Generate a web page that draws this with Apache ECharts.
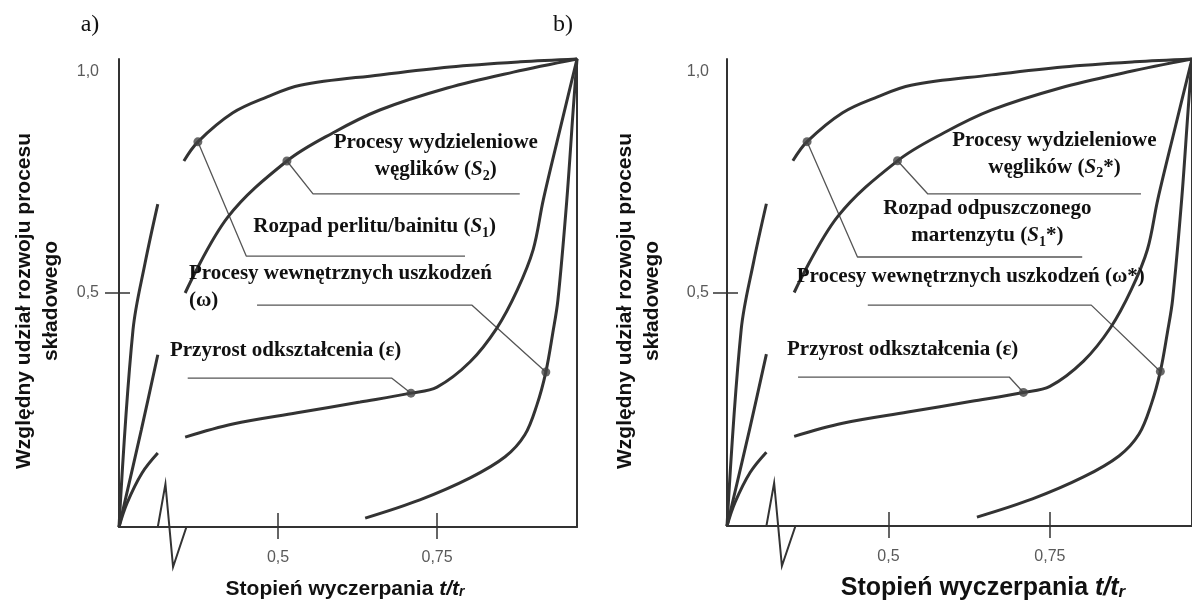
<!DOCTYPE html>
<html>
<head>
<meta charset="utf-8">
<script src="https://cdn.jsdelivr.net/npm/echarts@6/dist/echarts.min.js"></script>
<style>
  html, body { margin: 0; padding: 0; background: #fff; }
  #chart { width: 1192px; height: 601px; }
</style>
</head>
<body>
<div id="chart"></div>
<script>
// Relative share of each component process (y) versus exhaustion degree t/t_r (x)
const curveS1 = [[0.352, 0.782], [0.374, 0.823], [0.429, 0.885], [0.483, 0.919], [0.535, 0.944],
                 [0.660, 0.966], [0.770, 0.983], [0.881, 0.994], [0.970, 1.0]];
const curveS2 = [[0.354, 0.500], [0.421, 0.662], [0.514, 0.782], [0.586, 0.842], [0.660, 0.891],
                 [0.766, 0.938], [0.870, 0.972], [0.970, 1.0]];
const curveEps = [[0.354, 0.192], [0.429, 0.220], [0.530, 0.244], [0.629, 0.267], [0.709, 0.286],
                  [0.750, 0.299], [0.802, 0.353], [0.844, 0.425], [0.876, 0.506], [0.901, 0.592],
                  [0.917, 0.699], [0.943, 0.848], [0.970, 1.0]];
const curveOmega = [[0.637, 0.019], [0.723, 0.058], [0.802, 0.105], [0.857, 0.150], [0.888, 0.197],
                    [0.907, 0.261], [0.921, 0.331], [0.932, 0.415], [0.940, 0.485], [0.954, 0.699],
                    [0.964, 0.891], [0.970, 1.0]];
// early stage, drawn left of the axis break
const earlyA = [[0.250, 0.0], [0.272, 0.421], [0.291, 0.564], [0.311, 0.690]];
const earlyB = [[0.250, 0.0], [0.285, 0.207], [0.311, 0.368]];
const earlyC = [[0.250, 0.0], [0.2626, 0.051], [0.286, 0.115], [0.311, 0.158]];

// marked point on each curve (index into the curve array)
const markS1 = 1, markS2 = 2, markEps = 4, markOmega = 6;

// axis ticks
const xTicks = [0.5, 0.75];
const yTicks = [0.5];
const yTickLabels = [0.5, 1.0];
const xMin = 0.25, xMax = 0.97;
// the break on the time axis: start, peak, trough, end
const axisBreak = [0.311, 0.323, 0.335, 0.356];

// texts per panel
const panelTags = ['a)', 'b)'];
const labelsS2 = ['Procesy wydzieleniowe\nwęglików ({i|S}{s|2})', 'Procesy wydzieleniowe\nwęglików ({i|S}{s|2}*)'];
const labelsS1 = ['Rozpad perlitu/bainitu ({i|S}{s|1})', 'Rozpad odpuszczonego\nmartenzytu ({i|S}{s|1}*)'];
const labelsOmega = ['Procesy wewnętrznych uszkodzeń\n(ω)', 'Procesy wewnętrznych uszkodzeń (ω*)'];
const labelsEps = ['Przyrost odkształcenia (ε)', 'Przyrost odkształcenia (ε)'];
const xTitle = 'Stopień wyczerpania {i|t/t}{s|r}';
const yTitle = 'Względny udział rozwoju procesu\nskładowego';

// ---- layout ----
const grids = [
  { left: 119, top: 59, width: 458, height: 468 },
  { left: 727, top: 59, width: 466, height: 467 }
];
const layout = [
  {
    s2: { at: [0.748, 0.792], align: 'center' },
    s1: { at: [0.652, 0.641], align: 'center' },
    om: { at: [0.360, 0.512], align: 'left' },
    ep: { at: [0.512, 0.378], align: 'center' },
    leadS1: [[0.450, 0.579], [0.794, 0.579]],
    leadS2: [[0.555, 0.712], [0.880, 0.712]],
    leadOm: [[0.467, 0.474], [0.805, 0.474]],
    leadEp: [[0.358, 0.318], [0.679, 0.318]],
    xTitle: [345, 589], xTitleSize: 21, yTitle: [38, 301], tag: [90, 25]
  },
  {
    s2: { at: [0.757, 0.797], align: 'center' },
    s1: { at: [0.653, 0.650], align: 'center' },
    om: { at: [0.358, 0.535], align: 'left' },
    ep: { at: [0.522, 0.377], align: 'center' },
    leadS1: [[0.452, 0.576], [0.800, 0.576]],
    leadS2: [[0.561, 0.711], [0.891, 0.711]],
    leadOm: [[0.468, 0.473], [0.814, 0.473]],
    leadEp: [[0.360, 0.319], [0.687, 0.319]],
    xTitle: [983, 588], xTitleSize: 25, yTitle: [639, 301], tag: [563, 25]
  }
];

const INK = '#333';
const SANS = '"Liberation Sans", Arial, sans-serif';
const SERIF = '"Liberation Serif", "Times New Roman", serif';
const commaFmt = v => String(v).replace('.', ',');

const xAxes = [], yAxes = [], series = [];
grids.forEach((g, gi) => {
  // bottom axis: outward ticks + labels (line is drawn separately with the break)
  xAxes.push({
    gridIndex: gi, type: 'value', min: xMin, max: xMax, position: 'bottom',
    axisLine: { show: false },
    axisTick: { show: true, inside: false, length: 12, customValues: xTicks, lineStyle: { color: INK, width: 1.5 } },
    axisLabel: { show: true, customValues: xTicks, formatter: commaFmt, margin: 23,
                 color: '#5a5a5a', fontSize: 16, fontFamily: SANS },
    splitLine: { show: false }
  });
  // bottom axis: inward half of the crossing ticks
  xAxes.push({
    gridIndex: gi, type: 'value', min: xMin, max: xMax, position: 'bottom',
    axisLine: { show: false },
    axisTick: { show: true, inside: true, length: 14, customValues: xTicks, lineStyle: { color: INK, width: 1.5 } },
    axisLabel: { show: false }, splitLine: { show: false }
  });
  // top frame
  xAxes.push({
    gridIndex: gi, type: 'value', min: xMin, max: xMax, position: 'top',
    axisLine: { show: true, lineStyle: { color: INK, width: 2 } },
    axisTick: { show: false }, axisLabel: { show: false }, splitLine: { show: false }
  });
  // left axis with labels
  yAxes.push({
    gridIndex: gi, type: 'value', min: 0, max: 1, position: 'left',
    axisLine: { show: true, lineStyle: { color: INK, width: 2 } },
    axisTick: { show: true, inside: false, length: 14, customValues: yTicks, lineStyle: { color: INK, width: 1.5 } },
    axisLabel: {
      show: true, customValues: yTickLabels, margin: gi === 0 ? 20 : 18,
      formatter: v => v === 1 ? '{lo|1,0}' : commaFmt(v.toFixed(1)),
      color: '#5a5a5a', fontSize: 16, fontFamily: SANS,
      rich: { lo: { padding: [26, 0, 0, 0], color: '#5a5a5a', fontSize: 16, fontFamily: SANS } }
    },
    splitLine: { show: false }
  });
  yAxes.push({
    gridIndex: gi, type: 'value', min: 0, max: 1, position: 'left',
    axisLine: { show: false },
    axisTick: { show: true, inside: true, length: 11, customValues: yTicks, lineStyle: { color: INK, width: 1.5 } },
    axisLabel: { show: false }, splitLine: { show: false }
  });
  // right frame
  yAxes.push({
    gridIndex: gi, type: 'value', min: 0, max: 1, position: 'right',
    axisLine: { show: true, lineStyle: { color: INK, width: 2 } },
    axisTick: { show: false }, axisLabel: { show: false }, splitLine: { show: false }
  });

  const xi = gi * 3, yi = gi * 3;
  const curve = (name, data) => ({
    name, type: 'line', xAxisIndex: xi, yAxisIndex: yi, data, smooth: 0.35,
    symbol: 'none', clip: false, silent: true, z: 3,
    lineStyle: { color: INK, width: 3 }
  });
  [['S1', curveS1], ['S2', curveS2], ['eps', curveEps], ['omega', curveOmega],
   ['earlyA', earlyA], ['earlyB', earlyB], ['earlyC', earlyC]].forEach(([n, d]) => series.push(curve(n, d)));

  const L = layout[gi];
  const lead = (name, pts) => ({
    name, type: 'line', xAxisIndex: xi, yAxisIndex: yi, data: pts, smooth: false,
    symbol: 'none', clip: false, silent: true, z: 2,
    lineStyle: { color: '#555', width: 1.3 }
  });
  series.push(lead('leadS1', [curveS1[markS1], ...L.leadS1]));
  series.push(lead('leadS2', [curveS2[markS2], ...L.leadS2]));
  series.push(lead('leadOm', [...L.leadOm, curveOmega[markOmega]]));
  series.push(lead('leadEp', [...L.leadEp, curveEps[markEps]]));

  series.push({
    name: 'marks', type: 'scatter', xAxisIndex: xi, yAxisIndex: yi, symbolSize: 9, z: 4, silent: true,
    itemStyle: { color: '#444' },
    data: [curveS1[markS1], curveS2[markS2], curveEps[markEps], curveOmega[markOmega]]
  });
});

const chart = echarts.init(document.getElementById('chart'));
chart.setOption({
  backgroundColor: '#fff',
  animation: false,
  grid: grids.map(g => Object.assign({ containLabel: false }, g)),
  xAxis: xAxes,
  yAxis: yAxes,
  series
});

// text and the broken time axis, placed through the axes' own scales
const serifRich = {
  i: { fontFamily: SERIF, fontSize: 21, fontWeight: 'bold', fontStyle: 'italic', fill: '#111', lineHeight: 27 },
  s: { fontFamily: SERIF, fontSize: 14, fontWeight: 'bold', fill: '#111', verticalAlign: 'bottom' }
};
const graphic = [];
grids.forEach((g, gi) => {
  const finder = { xAxisIndex: gi * 3, yAxisIndex: gi * 3 };
  const px = p => chart.convertToPixel(finder, p);
  const y0 = px([xMin, 0])[1];
  const pts = [
    px([xMin, 0]), px([axisBreak[0], 0]),
    [px([axisBreak[1], 0])[0], y0 - 43],
    [px([axisBreak[2], 0])[0], y0 + 40],
    px([axisBreak[3], 0]), px([xMax, 0])
  ];
  graphic.push({ type: 'polyline', shape: { points: pts }, style: { stroke: INK, lineWidth: 2, fill: null }, z: 5 });

  const L = layout[gi];
  const note = (spec, text) => {
    const p = px(spec.at);
    graphic.push({
      type: 'text', x: p[0], y: p[1], z: 6,
      style: {
        text, align: spec.align, verticalAlign: 'middle',
        fontFamily: SERIF, fontSize: 21, fontWeight: 'bold', fill: '#111', lineHeight: 27,
        rich: serifRich
      }
    });
  };
  note(L.s2, labelsS2[gi]);
  note(L.s1, labelsS1[gi]);
  note(L.om, labelsOmega[gi]);
  note(L.ep, labelsEps[gi]);

  const ts = L.xTitleSize;
  graphic.push({
    type: 'text', x: L.xTitle[0], y: L.xTitle[1], z: 6,
    style: {
      text: xTitle, align: 'center', verticalAlign: 'middle',
      fontFamily: SANS, fontSize: ts, fontWeight: 'bold', fill: '#111',
      rich: {
        i: { fontFamily: SANS, fontSize: ts, fontWeight: 'bold', fontStyle: 'italic', fill: '#111' },
        s: { fontFamily: SANS, fontSize: Math.round(ts * 0.66), fontWeight: 'bold', fontStyle: 'italic', fill: '#111', verticalAlign: 'bottom' }
      }
    }
  });
  graphic.push({
    type: 'text', x: L.yTitle[0], y: L.yTitle[1], rotation: Math.PI / 2, z: 6,
    style: {
      text: yTitle, align: 'center', verticalAlign: 'middle', lineHeight: 27,
      fontFamily: SANS, fontSize: 21, fontWeight: 'bold', fill: '#111'
    }
  });
  graphic.push({
    type: 'text', x: L.tag[0], y: L.tag[1], z: 6,
    style: { text: panelTags[gi], align: 'center', verticalAlign: 'middle',
             fontFamily: SERIF, fontSize: 24, fill: '#111' }
  });
});
chart.setOption({ graphic });
</script>
</body>
</html>
